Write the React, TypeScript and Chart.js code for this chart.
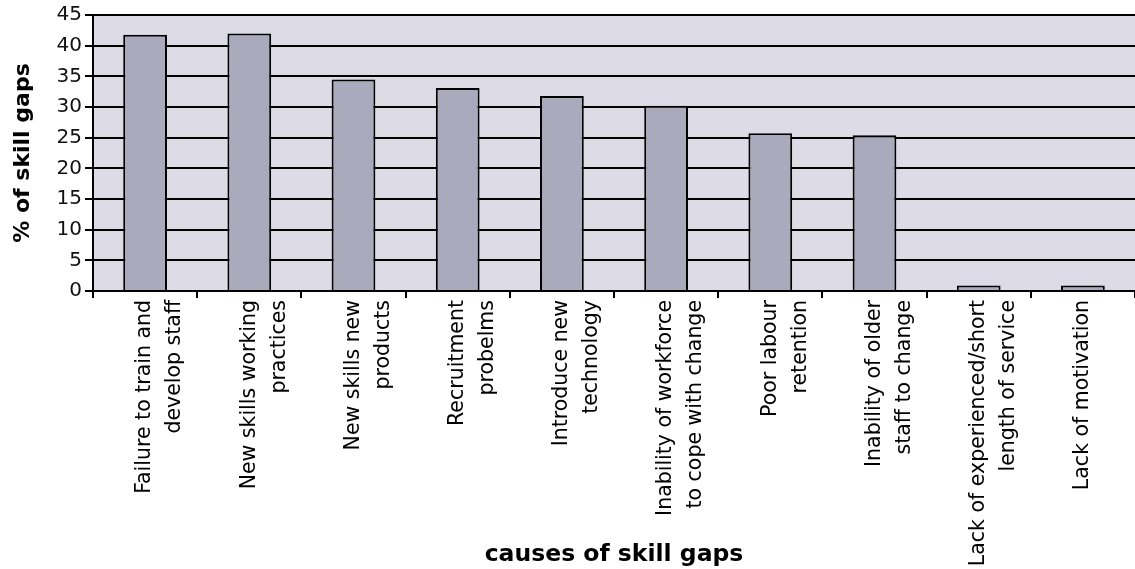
import React, { useEffect, useRef } from "react";
import { Chart, registerables } from "chart.js";

Chart.register(...registerables);

const categories: string[][] = [
  ["Failure to train and", "develop staff"],
  ["New skills working", "practices"],
  ["New skills new", "products"],
  ["Recruitment", "probelms"],
  ["Introduce new", "technology"],
  ["Inability of workforce", "to cope with change"],
  ["Poor labour", "retention"],
  ["Inability of older", "staff to change"],
  ["Lack of experienced/short", "length of service"],
  ["Lack of motivation"],
];

const values: number[] = [41.8, 42.0, 34.5, 33.1, 31.8, 30.2, 25.7, 25.4, 0.9, 0.9];

const yTicks: number[] = [0, 5, 10, 15, 20, 25, 30, 35, 40, 45];

const FONT = "'DejaVu Sans', Verdana, sans-serif";

const plotBg = {
  id: "plotBg",
  beforeDraw(chart: any) {
    const { ctx, chartArea } = chart;
    ctx.save();
    ctx.fillStyle = "#DDDBE6";
    ctx.fillRect(chartArea.left, chartArea.top, chartArea.right - chartArea.left, chartArea.bottom - chartArea.top);
    ctx.restore();
  },
};

export default function App() {
  const ref = useRef<HTMLCanvasElement | null>(null);
  useEffect(() => {
    if (!ref.current) return;
    const chart = new Chart(ref.current, {
      type: "bar",
      data: {
        labels: categories,
        datasets: [
          {
            data: values,
            backgroundColor: "#ABA9BC",
            borderColor: "#000000",
            borderWidth: 2,
            barPercentage: 0.42,
            categoryPercentage: 1,
          },
        ],
      },
      plugins: [plotBg],
      options: {
        animation: false,
        responsive: true,
        maintainAspectRatio: false,
        layout: { padding: { top: 5, right: 0, left: 0, bottom: 0 } },
        plugins: { legend: { display: false }, tooltip: { enabled: false } },
        scales: {
          x: {
            afterFit(scale: any) {
              scale.height = 278;
            },
            grid: {
              offset: true,
              drawOnChartArea: false,
              drawTicks: true,
              tickLength: 7,
              color: "#000",
              lineWidth: 2,
            },
            border: { color: "#000", width: 2 },
            ticks: {
              maxRotation: 90,
              minRotation: 90,
              autoSkip: false,
              padding: 2,
              color: "#000",
              font: { family: FONT, size: 20.5, lineHeight: 1.46 },
            },
            title: {
              display: true,
              text: "causes of skill gaps",
              color: "#000",
              font: { family: FONT, size: 23.5, weight: "bold" },
              padding: { top: 0, bottom: 0 },
            },
          },
          y: {
            min: 0,
            max: 45,
            afterFit(scale: any) {
              scale.width = 93;
            },
            afterBuildTicks(scale: any) {
              scale.ticks = yTicks.map((v) => ({ value: v }));
            },
            grid: {
              color: "#000",
              lineWidth: 2,
              drawTicks: true,
              tickLength: 8,
            },
            border: { color: "#000", width: 2 },
            ticks: {
              padding: 3,
              color: "#111",
              font: { family: FONT, size: 20 },
            },
            title: {
              display: true,
              text: "% of skill gaps",
              color: "#000",
              font: { family: FONT, size: 22, weight: "bold" },
              padding: { top: 10, bottom: 0 },
            },
          },
        },
      },
    });
    return () => chart.destroy();
  }, []);
  return (
    <div style={{ position: "fixed", left: 0, top: 0, width: 1135, height: 569, background: "#fff" }}>
      <canvas ref={ref} />
    </div>
  );
}
